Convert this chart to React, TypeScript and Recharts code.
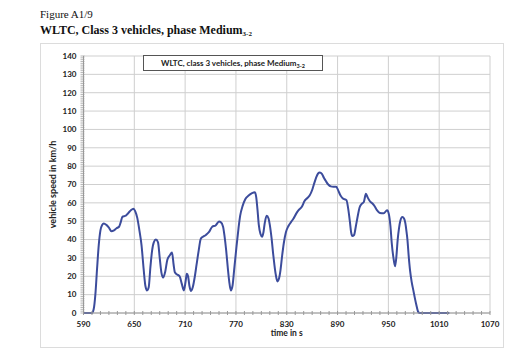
import React from "react";
import { LineChart, Line, XAxis, YAxis, CartesianGrid, Label } from "recharts";

// vehicle speed trace (time in s, speed in km/h)
const times = [
  590, 596, 600, 602, 604, 606, 608, 610, 612, 614, 617, 620, 623, 626, 629, 632, 634, 636, 640, 643,
  646, 649, 651, 653.5, 656, 658.5, 661, 663, 665, 667, 669, 671, 673, 675.5, 678, 680, 682, 684, 686.5, 689,
  692, 694.5, 696.5, 698, 700.5, 703.5, 706, 708.5, 710.5, 712, 713.5, 715, 717, 719, 721.5, 723.5, 726, 728.5, 731, 734.5,
  738, 742, 746, 750, 752, 754.8, 756.5, 758.5, 760.5, 762, 764, 766, 768, 770.8, 773, 775, 778, 781, 785, 789,
  792.5, 794, 795.5, 797, 799, 800.8, 802.5, 804, 806.3, 808.5, 810, 812, 814, 815.5, 817, 819, 821, 822.5, 824.5, 826.5,
  829, 832, 835, 838, 841, 844, 848, 851, 854, 857, 860, 862, 864.5, 867, 869, 871.5, 874, 876, 879, 882,
  885, 888.5, 891, 893.5, 896, 900.5, 902.5, 904.5, 906, 907.5, 909.5, 911.5, 913.5, 916, 918.5, 921, 923.5, 925.5, 928, 931.5,
  934, 936.5, 940, 944.5, 948.5, 950.5, 952.5, 954, 956, 957.9, 959.5, 961, 962.5, 964, 966.5, 968.5, 970, 971.5, 972.5, 974,
  975.7, 977.5, 979.5, 982.5, 985.5, 987, 1000, 1022,
];
const speeds = [
  0, 0, 0, 2, 10, 24, 37, 45, 48, 48.8, 48, 46.5, 44.5, 45, 46.2, 47, 49.5, 52.5, 53, 54.5,
  56, 56.8, 55.5, 51.8, 45, 37, 24, 15, 12.3, 14, 25, 34, 38.5, 40, 38.5, 30, 22, 19.3, 22.5, 29,
  31.5, 33, 26, 22, 21, 20, 16, 12.3, 17, 21.4, 20, 15, 12, 14, 20, 26.3, 34, 40.5, 41.5, 42.5,
  44, 47, 47.7, 49.8, 49.5, 47, 42, 34, 24, 17.5, 12.3, 15, 24, 36.8, 46, 53, 58.5, 62, 64, 65.3,
  65.8, 63, 56, 48, 43, 41.6, 44, 49, 53, 51.5, 48, 41, 32, 26, 21, 17.2, 19, 23, 31, 38,
  44, 47.4, 49.5, 51.5, 54, 56, 58, 61, 62.5, 64, 67, 70, 73.5, 76, 76.5, 75.8, 73.5, 72, 70, 69,
  68.8, 68.8, 66.5, 64, 62.5, 61.5, 57, 50, 44, 42, 42.5, 47, 52, 57.5, 59.5, 60.5, 64.9, 63, 61, 59.5,
  58, 56, 54.5, 54.3, 56, 54, 47, 38, 30, 25.4, 31, 40, 46, 50, 52.3, 51.5, 49, 44, 40, 31,
  22.8, 17, 12.3, 5.5, 0.4, 0, 0, 0,
];

const xMajor = [590, 650, 710, 770, 830, 890, 950, 1010, 1070];
const yMajor = [0, 10, 20, 30, 40, 50, 60, 70, 80, 90, 100, 110, 120, 130, 140];
// minor tick marks: every 10 s and every 1 km/h
const xMinor = Array.from({ length: 49 }, (_, i) => 590 + i * 10);
const yMinor = Array.from({ length: 141 }, (_, i) => i);

const data = times.map((t, i) => ({ t, v: speeds[i] }));

const TICK_FONT = "Lato, 'Open Sans', sans-serif";
const AXIS_COLOR = "#9a9a9a";

const XTick = (props: any) => {
  const { x, y, payload } = props;
  const axisY = y - 6;
  const major = (payload.value - 590) % 60 === 0;
  return (
    <g>
      <line x1={x} x2={x} y1={axisY - 2} y2={axisY + 2} stroke={AXIS_COLOR} />
      {major && (
        <text x={x} y={axisY + 13.5} textAnchor="middle" fontFamily={TICK_FONT} fontWeight="bold" fontSize={8} fill="#222">
          {payload.value}
        </text>
      )}
    </g>
  );
};

const YTick = (props: any) => {
  const { x, y, payload } = props;
  const axisX = x + 6;
  const major = payload.value % 10 === 0;
  return (
    <g>
      <line x1={axisX - 3} x2={axisX + 1} y1={y} y2={y} stroke={AXIS_COLOR} strokeWidth={0.7} />
      {major && (
        <text x={axisX - 7} y={y + 2.8} textAnchor="end" fontFamily={TICK_FONT} fontWeight="bold" fontSize={8} fill="#222">
          {payload.value}
        </text>
      )}
    </g>
  );
};

export default function App() {
  return (
    <div style={{ position: "absolute", left: 0, top: 0, width: 530, height: 353, background: "#fff" }}>
      <div style={{ position: "absolute", left: 40, top: 8, fontFamily: "'Liberation Serif', serif", fontSize: 11, color: "#111", lineHeight: "13px" }}>
        Figure A1/9
      </div>
      <div style={{ position: "absolute", left: 40, top: 23, fontFamily: "'Liberation Serif', serif", fontSize: 12, fontWeight: "bold", color: "#111", lineHeight: "14px" }}>
        WLTC, Class 3 vehicles, phase Medium<sub style={{ fontSize: 7, verticalAlign: "-2px" }}>3-2</sub>
      </div>
      <div style={{ position: "absolute", left: 40, top: 43, width: 464, height: 305, boxSizing: "border-box", border: "1px solid #dcdcdc" }} />
      <div style={{ position: "absolute", left: 40, top: 43 }}>
        <LineChart width={463} height={304} data={data} margin={{ top: 13, right: 13, left: 0, bottom: 0 }}>
          <CartesianGrid stroke="#cfcfcf" horizontalValues={yMajor} verticalValues={xMajor} />
          <XAxis
            dataKey="t"
            type="number"
            domain={[590, 1070]}
            ticks={xMinor}
            interval={0}
            height={34}
            tickSize={0}
            tickMargin={6}
            tick={<XTick />}
            stroke={AXIS_COLOR}
          >
            <Label
              content={({ viewBox }: any) => (
                <text x={viewBox.x + viewBox.width / 2} y={viewBox.y + 23} textAnchor="middle" fontFamily={TICK_FONT} fontWeight="bold" fontSize={8.5} fill="#222">
                  time in s
                </text>
              )}
            />
          </XAxis>
          <YAxis
            type="number"
            domain={[0, 140]}
            ticks={yMinor}
            interval={0}
            width={43.5}
            tickSize={0}
            tickMargin={6}
            tick={<YTick />}
            stroke={AXIS_COLOR}
          >
            <Label
              content={({ viewBox }: any) => {
                const cx = viewBox.x + 16;
                const cy = viewBox.y + viewBox.height / 2;
                return (
                  <text x={cx} y={cy} transform={`rotate(-90 ${cx} ${cy})`} textAnchor="middle" fontFamily={TICK_FONT} fontWeight="bold" fontSize={9} fill="#222">
                    vehicle speed in km/h
                  </text>
                );
              }}
            />
          </YAxis>
          <Line type="monotone" dataKey="v" stroke="#3c4c9c" strokeWidth={2} dot={false} isAnimationActive={false} />
        </LineChart>
      </div>
      <div
        style={{
          position: "absolute",
          left: 143,
          top: 55,
          width: 180,
          height: 16,
          boxSizing: "border-box",
          border: "1px solid #555",
          background: "#fff",
          fontFamily: TICK_FONT,
          fontWeight: "bold",
          fontSize: 8,
          color: "#222",
          textAlign: "center",
          lineHeight: "14px",
        }}
      >
        WLTC, class 3 vehicles, phase Medium<sub style={{ fontSize: 5.5, verticalAlign: "-2px" }}>3-2</sub>
      </div>
    </div>
  );
}
